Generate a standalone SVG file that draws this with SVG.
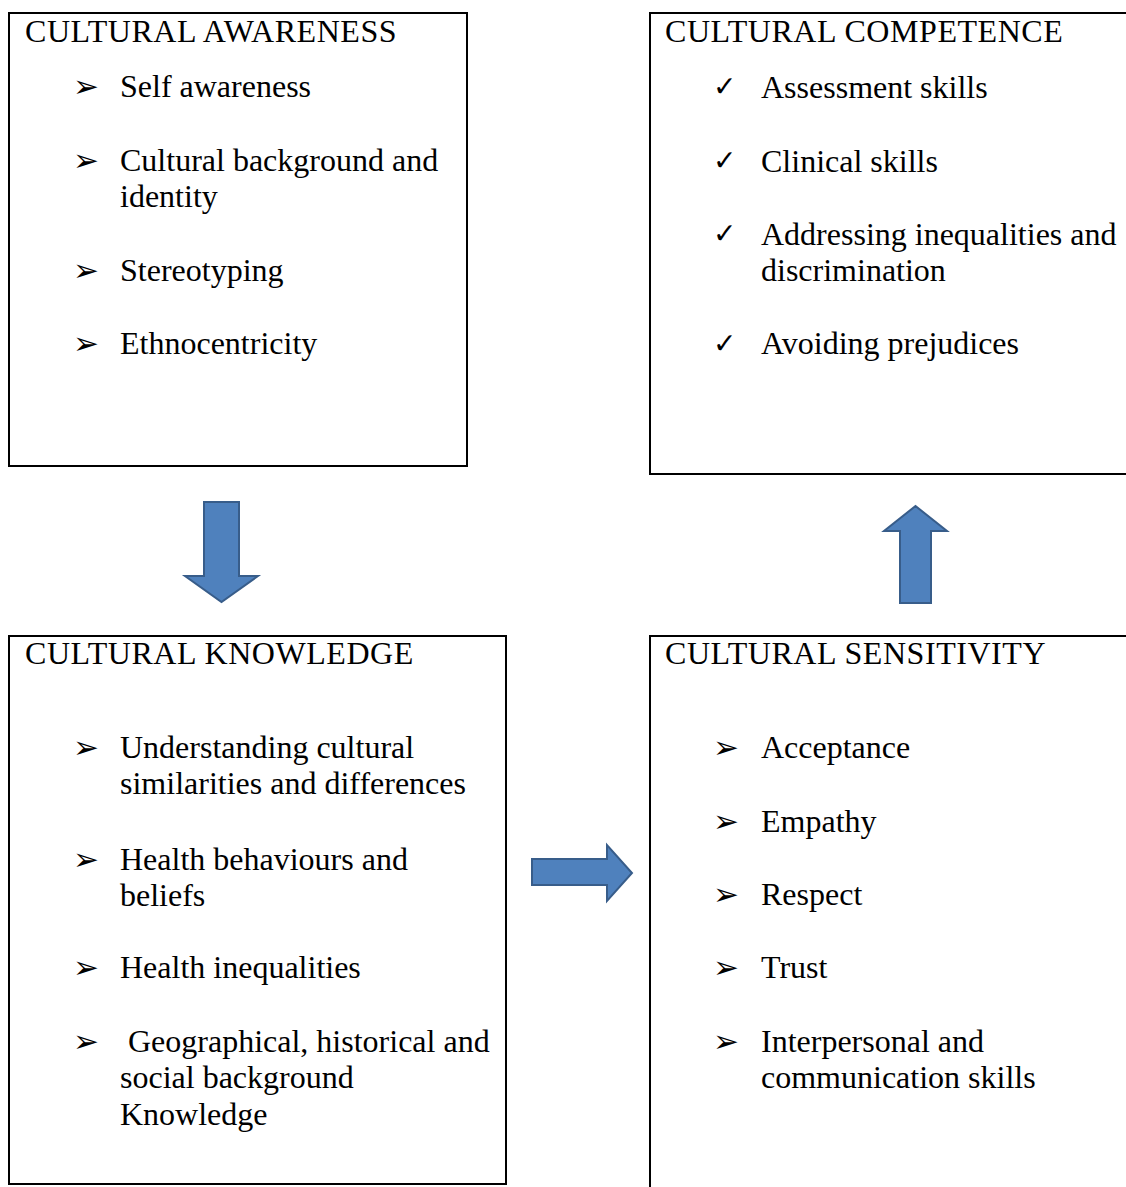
<svg xmlns="http://www.w3.org/2000/svg" width="1126" height="1187" viewBox="0 0 1126 1187">
<style>
.box{fill:#fff;stroke:#000;stroke-width:2}
.t{font-family:"Liberation Serif","Times New Roman",serif;font-size:32px;fill:#000}
.h{letter-spacing:0.55px}
.b{font-family:"DejaVu Sans",sans-serif;font-size:31px;fill:#000}
.c{font-family:"DejaVu Sans",sans-serif;font-size:28px;fill:#000}
.arr{fill:#4F81BD;stroke:#385D8A;stroke-width:2;stroke-linejoin:miter}
</style>
<rect width="1126" height="1187" fill="#fff"/>
<g id="awareness">
<rect class="box" x="9" y="13" width="458" height="453"/>
<text class="t h" x="25" y="42">CULTURAL AWARENESS</text>
<text class="b" x="73" y="97">➢</text><text class="t" x="120" y="97">Self awareness</text>
<text class="b" x="73" y="171">➢</text><text class="t" x="120" y="171">Cultural background and</text>
<text class="t" x="120" y="207">identity</text>
<text class="b" x="73" y="281">➢</text><text class="t" x="120" y="281">Stereotyping</text>
<text class="b" x="73" y="354">➢</text><text class="t" x="120" y="354">Ethnocentricity</text>
</g>
<g id="competence">
<rect class="box" x="650" y="13" width="490" height="461"/>
<text class="t h" x="665" y="42">CULTURAL COMPETENCE</text>
<text class="c" x="713" y="96">✓</text><text class="t" x="761" y="98">Assessment skills</text>
<text class="c" x="713" y="170">✓</text><text class="t" x="761" y="172">Clinical skills</text>
<text class="c" x="713" y="243">✓</text><text class="t" x="761" y="245">Addressing inequalities and</text>
<text class="t" x="761" y="281">discrimination</text>
<text class="c" x="713" y="353">✓</text><text class="t" x="761" y="354">Avoiding prejudices</text>
</g>
<g id="knowledge">
<rect class="box" x="9" y="636" width="497" height="548"/>
<text class="t h" x="25" y="664">CULTURAL KNOWLEDGE</text>
<text class="b" x="73" y="758">➢</text><text class="t" x="120" y="758">Understanding cultural</text>
<text class="t" x="120" y="794">similarities and differences</text>
<text class="b" x="73" y="870">➢</text><text class="t" x="120" y="870">Health behaviours and</text>
<text class="t" x="120" y="906">beliefs</text>
<text class="b" x="73" y="978">➢</text><text class="t" x="120" y="978">Health inequalities</text>
<text class="b" x="73" y="1052">➢</text><text class="t" x="128" y="1052">Geographical, historical and</text>
<text class="t" x="120" y="1088">social background</text>
<text class="t" x="120" y="1125">Knowledge</text>
</g>
<g id="sensitivity">
<rect class="box" x="650" y="636" width="490" height="570"/>
<text class="t h" x="665" y="664">CULTURAL SENSITIVITY</text>
<text class="b" x="713" y="758">➢</text><text class="t" x="761" y="758">Acceptance</text>
<text class="b" x="713" y="832">➢</text><text class="t" x="761" y="832">Empathy</text>
<text class="b" x="713" y="905">➢</text><text class="t" x="761" y="905">Respect</text>
<text class="b" x="713" y="978">➢</text><text class="t" x="761" y="978">Trust</text>
<text class="b" x="713" y="1052">➢</text><text class="t" x="761" y="1052">Interpersonal and</text>
<text class="t" x="761" y="1088">communication skills</text>
</g>
<g id="connectors">
<path class="arr" d="M204,502 H239 V576 H258 L221.5,602 L185,576 H204 Z"/>
<path class="arr" d="M900,603 V531 H884 L915.5,506 L947,531 H931 V603 Z"/>
<path class="arr" d="M532,859 H607 V845 L632,873 L607,901 V885 H532 Z"/>
</g>
</svg>
